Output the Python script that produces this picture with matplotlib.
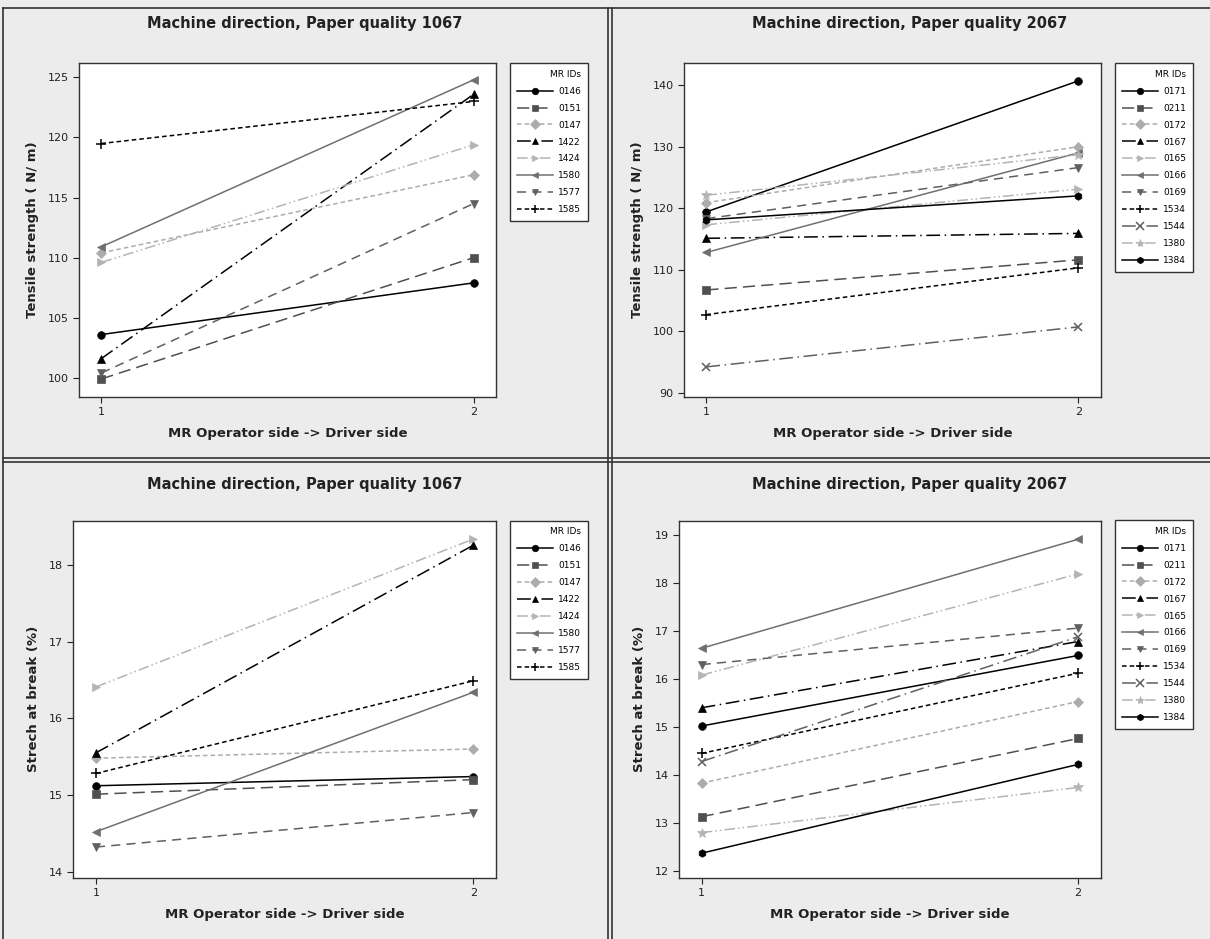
import matplotlib.pyplot as plt
from matplotlib.lines import Line2D
import numpy as np

# x positions: MR Operator side -> Driver side
sides = [1, 2]

ids_1067 = ["0146", "0151", "0147", "1422", "1424", "1580", "1577", "1585"]
tensile_1067 = [
    [103.6, 107.9],
    [99.9, 110.0],
    [110.4, 116.9],
    [101.6, 123.6],
    [109.6, 119.4],
    [110.9, 124.8],
    [100.4, 114.5],
    [119.5, 123.0],
]
stretch_1067 = [
    [15.12, 15.24],
    [15.01, 15.20],
    [15.48, 15.60],
    [15.55, 18.26],
    [16.41, 18.34],
    [14.52, 16.34],
    [14.32, 14.77],
    [15.28, 16.49],
]

ids_2067 = ["0171", "0211", "0172", "0167", "0165", "0166", "0169",
            "1534", "1544", "1380", "1384"]
tensile_2067 = [
    [119.4, 140.7],
    [106.7, 111.6],
    [120.9, 130.0],
    [115.1, 115.9],
    [117.3, 123.1],
    [112.8, 129.0],
    [118.3, 126.6],
    [102.7, 110.3],
    [94.2, 100.7],
    [122.1, 128.7],
    [118.1, 122.0],
]
stretch_2067 = [
    [15.02, 16.49],
    [13.13, 14.76],
    [13.83, 15.53],
    [15.40, 16.78],
    [16.08, 18.19],
    [16.64, 18.91],
    [16.30, 17.06],
    [14.45, 16.12],
    [14.28, 16.88],
    [12.80, 13.74],
    [12.37, 14.22],
]

# series styles (colour, linestyle, marker)
styles = [
    ("#000000", "-", "o"),
    ("#505050", (0, (8, 4)), "s"),
    ("#acacac", (0, (3, 2)), "D"),
    ("#000000", (0, (9, 3, 1, 3)), "^"),
    ("#b4b4b4", (0, (7, 2, 1, 2, 1, 2)), ">"),
    ("#707070", "-", "<"),
    ("#606060", (0, (6, 4)), "v"),
    ("#000000", (0, (3, 2)), "+"),
    ("#606060", (0, (9, 3, 1, 3)), "x"),
    ("#b4b4b4", (0, (7, 2, 1, 2, 1, 2)), "*"),
    ("#000000", "-", "h"),
]

fig = plt.figure(figsize=(12.1, 9.39), dpi=100, facecolor="#ececec")

panels = [
    # axes rect, legend anchor (fig coords), ids, data, ylim, yticks, ylabel, title
    ([0.0653, 0.5772, 0.3446, 0.3557], (0.4215, 0.9329), ids_1067, tensile_1067,
     (98.4, 126.2), [100, 105, 110, 115, 120, 125], "Tensile strength ( N/ m)",
     "Machine direction, Paper quality 1067"),
    ([0.5653, 0.5772, 0.3444, 0.3557], (0.9215, 0.9329), ids_2067, tensile_2067,
     (89.3, 143.6), [90, 100, 110, 120, 130, 140], "Tensile strength ( N/ m)",
     "Machine direction, Paper quality 2067"),
    ([0.0606, 0.0653, 0.3493, 0.3802], (0.4215, 0.4455), ids_1067, stretch_1067,
     (13.92, 18.58), [14, 15, 16, 17, 18], "Strech at break (%)",
     "Machine direction, Paper quality 1067"),
    ([0.5612, 0.0653, 0.3485, 0.3798], (0.9215, 0.4462), ids_2067, stretch_2067,
     (11.86, 19.29), [12, 13, 14, 15, 16, 17, 18, 19], "Strech at break (%)",
     "Machine direction, Paper quality 2067"),
]

title_x = [0.2514, 0.7521, 0.2514, 0.7521]
title_y = [0.9745, 0.9745, 0.4835, 0.4835]

for i, (rect, leg_anchor, ids, data, ylim, yticks, ylabel, title) in enumerate(panels):
    ax = fig.add_axes(rect)
    ax.set_facecolor("white")
    for j, name in enumerate(ids):
        c, ls, mk = styles[j]
        ms = {"+": 7, "x": 6, "*": 7}.get(mk, 5.5)
        ax.plot(sides, data[j], color=c, linestyle=ls, marker=mk, markersize=ms,
                linewidth=1.1, markeredgewidth=1.1 if mk in ("+", "x") else 0.5,
                markeredgecolor=c, label=name)
    ax.set_xlim(0.94, 2.06)
    ax.set_ylim(*ylim)
    ax.set_xticks(sides)
    ax.set_yticks(yticks)
    ax.tick_params(labelsize=8, length=4, width=0.8, colors="#222222")
    for sp in ax.spines.values():
        sp.set_linewidth(1.0)
        sp.set_color("#333333")
    ax.set_xlabel("MR Operator side -> Driver side", fontsize=9.5,
                  fontweight="semibold", color="#222222", labelpad=7)
    ax.set_ylabel(ylabel, fontsize=9.5, fontweight="semibold", color="#222222",
                  labelpad=6)
    fig.text(title_x[i], title_y[i], title, ha="center", va="center",
             fontsize=10.5, fontweight="semibold", color="#222222")
    leg = ax.legend(loc="upper left", bbox_to_anchor=leg_anchor,
                    bbox_transform=fig.transFigure, title="MR IDs",
                    fontsize=6.5, title_fontsize=6.5, frameon=True, fancybox=False,
                    edgecolor="#333333", handlelength=4.0, handletextpad=0.6,
                    labelspacing=0.88, borderpad=0.75, borderaxespad=0,
                    markerscale=0.85, framealpha=1)
    leg.get_frame().set_linewidth(1.0)
    leg._legend_box.align = "right"

# panel frames
line_kw = dict(color="#333333", linewidth=1.2, transform=fig.transFigure)
fig.add_artist(Line2D([0.0025, 1.0], [0.9915, 0.9915], **line_kw))
fig.add_artist(Line2D([0.0025, 0.0025], [0.0, 0.9915], **line_kw))
for x in (0.5025, 0.5058):
    fig.add_artist(Line2D([x, x], [0.0, 0.9915], **line_kw))
for y in (0.5125, 0.5085):
    fig.add_artist(Line2D([0.0025, 1.0], [y, y], **line_kw))

fig.savefig("out.png", dpi=100, facecolor=fig.get_facecolor())
